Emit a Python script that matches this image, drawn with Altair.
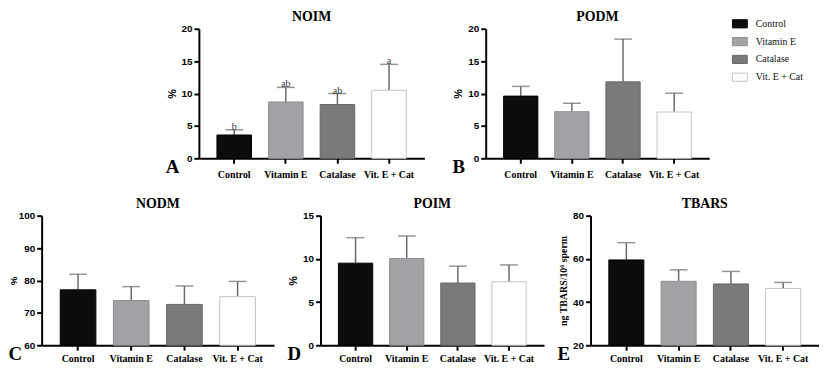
import altair as alt
import pandas as pd

groups = ["Control", "Vitamin E", "Catalase", "Vit. E + Cat"]
fill_colors = ["#0c0c0c", "#a2a2a6", "#7a7a7a", "#ffffff"]
stroke_colors = ["#000000", "#8f8f93", "#686868", "#c4c4c4"]

noim_mean = [3.6, 8.7, 8.3, 10.5]
noim_sd = [0.8, 2.25, 1.7, 4.0]
noim_letters = ["b", "ab", "ab", "a"]

podm_mean = [9.6, 7.2, 11.8, 7.15]
podm_sd = [1.5, 1.3, 6.6, 2.9]

nodm_mean = [77.1, 73.8, 72.6, 75.0]
nodm_sd = [4.8, 4.3, 5.7, 4.7]

poim_mean = [9.5, 10.05, 7.2, 7.35]
poim_sd = [2.95, 2.6, 1.95, 1.95]

tbars_mean = [59.5, 49.6, 48.4, 46.3]
tbars_sd = [8.0, 5.3, 5.8, 2.8]

SERIF = "Liberation Serif"
SANS = "Liberation Sans"
ERR = "#6a6a6a"
H = 131

fill_scale = alt.Scale(domain=groups, range=fill_colors)
stroke_scale = alt.Scale(domain=groups, range=stroke_colors)
legend = alt.Legend(
    title=None, orient="none", legendX=698, legendY=-13,
    symbolType="M-1,-0.55H1V0.55H-1Z", symbolSize=225, symbolStrokeWidth=1,
    labelFont=SERIF, labelFontSize=10, labelColor="#111", labelOffset=8,
    rowPadding=3,
)


def panel(title, letter, mean, sd, domain, ticks, ytitle, width,
          letters=None, ytitle_font=SANS, ytitle_size=11, ytitle_pad=4,
          label_pad=3):
    df = pd.DataFrame({
        "group": groups,
        "mean": mean,
        "upper": [m + s for m, s in zip(mean, sd)],
        "base": [domain[0]] * len(groups),
    })
    if letters is not None:
        df["letter"] = letters
    xaxis = alt.Axis(
        title=letter, titleX=-34, titleY=8, titleAlign="left", titleAnchor="start",
        titleBaseline="middle", titleFont=SERIF, titleFontSize=19,
        titleFontWeight="bold", titleColor="black",
        labelAngle=0, labelFont=SERIF, labelFontSize=10, labelFontWeight="bold",
        labelColor="black", labelPadding=label_pad, labelOverlap=False, labelLimit=200,
        tickSize=5, tickWidth=2, tickColor="black",
        domainColor="black", domainWidth=2,
    )
    x = alt.X("group:N", sort=groups,
              scale=alt.Scale(paddingInner=0.33, paddingOuter=0.35), axis=xaxis)
    yscale = alt.Scale(domain=domain, nice=False, zero=False)
    yaxis = alt.Axis(
        values=ticks, title=ytitle, grid=False,
        labelFont=SANS, labelFontSize=10, labelFontWeight="bold", labelColor="black",
        labelPadding=2, tickSize=5, tickWidth=2, tickColor="black",
        domainColor="black", domainWidth=2,
        titleFont=ytitle_font, titleFontSize=ytitle_size, titleFontWeight="bold",
        titleColor="black", titlePadding=ytitle_pad,
    )
    base = alt.Chart(df)
    bars = base.mark_bar(strokeWidth=1).encode(
        x=x,
        y=alt.Y("mean:Q", scale=yscale, axis=yaxis),
        y2="base:Q",
        fill=alt.Fill("group:N", scale=fill_scale, legend=legend, sort=groups),
        stroke=alt.Stroke("group:N", scale=stroke_scale, legend=legend, sort=groups),
    )
    rule = base.mark_rule(color=ERR, strokeWidth=1.5).encode(
        x=x, y=alt.Y("mean:Q", scale=yscale, axis=yaxis), y2="upper:Q"
    )
    cap = base.mark_tick(color=ERR, size=18, thickness=1.5).encode(
        x=x, y=alt.Y("upper:Q", scale=yscale, axis=yaxis)
    )
    layers = [rule, bars, cap]
    if letters is not None:
        txt = base.mark_text(font=SERIF, fontSize=10, color="#333",
                             baseline="alphabetic", dy=0).encode(
            x=x, y=alt.Y("upper:Q", scale=yscale, axis=yaxis), text="letter:N"
        )
        layers.append(txt)
    return alt.layer(*layers).properties(
        width=width, height=H,
        title=alt.TitleParams(title, font=SERIF, fontSize=14, fontWeight="bold",
                              anchor="middle", color="black", offset=0),
    )


a = panel("NOIM", "A", noim_mean, noim_sd, [0, 20], [0, 5, 10, 15, 20], "%", 228,
          letters=noim_letters, label_pad=6)
b = panel("PODM", "B", podm_mean, podm_sd, [0, 20], [0, 5, 10, 15, 20], "%", 226,
          label_pad=6)
c = panel("NODM", "C", nodm_mean, nodm_sd, [60, 100], [60, 70, 80, 90, 100], "%", 235,
          ytitle_size=10, ytitle_pad=0)
d = panel("POIM", "D", poim_mean, poim_sd, [0, 15], [0, 5, 10, 15], "%", 226)
e = panel("TBARS", "E", tbars_mean, tbars_sd, [20, 80], [20, 40, 60, 80],
          "ng TBARS/10⁶ sperm", 231, ytitle_font=SERIF, ytitle_size=10)

spacer = alt.Chart(pd.DataFrame({"v": [0]})).mark_point(opacity=0).encode(
    x=alt.value(0), y=alt.value(0)
).properties(width=97, height=H)

row1 = alt.hconcat(spacer, a, b, spacing=62, bounds="flush")
row2 = alt.hconcat(c, d, e, spacing=47, bounds="flush")

chart = alt.vconcat(row1, row2, spacing=18).properties(
    padding={"left": 0, "top": 0, "right": 0, "bottom": 0}
).configure(background="white").configure_view(stroke=None)

chart.save("out.html", embed_options={"renderer": "svg", "actions": False})
